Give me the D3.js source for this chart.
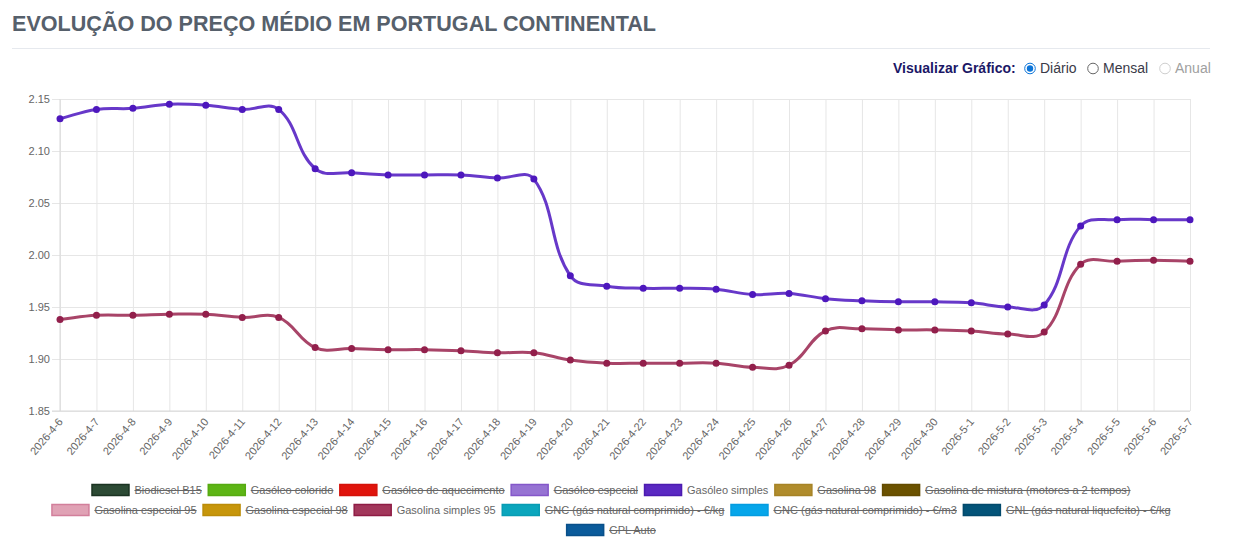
<!DOCTYPE html>
<html>
<head>
<meta charset="utf-8">
<script src="https://cdn.jsdelivr.net/npm/d3@7"></script>
<style>
  body { margin: 0; background: #fff; font-family: Arial, "Liberation Sans", sans-serif; }
  #chart svg { display: block; }
</style>
</head>
<body>
<div id="chart"></div>
<script>

// Tick labels (one per day)
const dates = [
    "2026-4-6", "2026-4-7", "2026-4-8", "2026-4-9", "2026-4-10", "2026-4-11", "2026-4-12",
    "2026-4-13", "2026-4-14", "2026-4-15", "2026-4-16", "2026-4-17", "2026-4-18", "2026-4-19",
    "2026-4-20", "2026-4-21", "2026-4-22", "2026-4-23", "2026-4-24", "2026-4-25", "2026-4-26",
    "2026-4-27", "2026-4-28", "2026-4-29", "2026-4-30", "2026-5-1", "2026-5-2", "2026-5-3",
    "2026-5-4", "2026-5-5", "2026-5-6", "2026-5-7"
];

// Series values (€/l)
const gasoleoSimples = [
    2.131, 2.140, 2.141, 2.145, 2.144, 2.140, 2.140,
    2.083, 2.079, 2.077, 2.077, 2.077, 2.074, 2.073,
    1.980, 1.970, 1.968, 1.968, 1.967, 1.962, 1.963,
    1.958, 1.956, 1.955, 1.955, 1.954, 1.950, 1.952,
    2.028, 2.034, 2.034, 2.034
];

const gasolinaSimples95 = [
    1.938, 1.942, 1.942, 1.943, 1.943, 1.940, 1.940,
    1.911, 1.910, 1.909, 1.909, 1.908, 1.906, 1.906,
    1.899, 1.896, 1.896, 1.896, 1.896, 1.892, 1.894,
    1.927, 1.929, 1.928, 1.928, 1.927, 1.924, 1.926,
    1.991, 1.994, 1.995, 1.994
];

const yTicks = [1.85, 1.90, 1.95, 2.00, 2.05, 2.10, 2.15];

// Legend entries
const legendLabels = [
    "Biodiesel B15", "Gasóleo colorido", "Gasóleo de aquecimento", "Gasóleo especial",
    "Gasóleo simples", "Gasolina 98", "Gasolina de mistura (motores a 2 tempos)",
    "Gasolina especial 95", "Gasolina especial 98", "Gasolina simples 95",
    "GNC (gás natural comprimido) - €/kg", "GNC (gás natural comprimido) - €/m3",
    "GNL (gás natural liquefeito) - €/kg", "GPL Auto"
];
const legendFill = [
    "#2c4a34", "#5db515", "#e0140c", "#9673d3", "#5a28c2", "#b08c2c", "#6b5200",
    "#e0a2b5", "#c7960b", "#a2375b", "#0ba6bd", "#06a6ea", "#045479", "#0b5b9b"
];
const legendStroke = [
    "#1b3322", "#56aa12", "#d4120a", "#8457c9", "#4c1bb0", "#a68326", "#634b00",
    "#d27f9b", "#bb8c08", "#8f1c45", "#089cb3", "#049ce0", "#034a6c", "#09508a"
];
const legendVisible = [
    false, false, false, false, true, false, false,
    false, false, true, false, false, false, false
];

const series = [
    {name: "Gasóleo simples", values: gasoleoSimples, line: "#5f2dc6", point: "#4d17bd"},
    {name: "Gasolina simples 95", values: gasolinaSimples95, line: "#a33a60", point: "#921f4b"}
];


// Chart.js style bezier (tension 0.4, distance weighted) as a d3 curve
function splineCurve(context) {
    let pts = [];
    return {
        areaStart() {}, areaEnd() {},
        lineStart() { pts = []; },
        point(x, y) { pts.push([+x, +y]); },
        lineEnd() {
            const t = 0.4, n = pts.length;
            const ctrl = pts.map((p, i) => {
                const prev = pts[Math.max(i - 1, 0)], next = pts[Math.min(i + 1, n - 1)];
                const d01 = Math.hypot(p[0] - prev[0], p[1] - prev[1]);
                const d12 = Math.hypot(next[0] - p[0], next[1] - p[1]);
                const s = d01 + d12;
                const fa = s ? t * d01 / s : 0, fb = s ? t * d12 / s : 0;
                return {
                    prev: [p[0] - fa * (next[0] - prev[0]), p[1] - fa * (next[1] - prev[1])],
                    next: [p[0] + fb * (next[0] - prev[0]), p[1] + fb * (next[1] - prev[1])]
                };
            });
            context.moveTo(pts[0][0], pts[0][1]);
            for (let i = 1; i < n; i++) {
                const a = ctrl[i - 1].next, b = ctrl[i].prev;
                context.bezierCurveTo(a[0], a[1], b[0], b[1], pts[i][0], pts[i][1]);
            }
        }
    };
}


const W = 1249, H = 554;
const margin = {top: 99, right: 59, bottom: 143, left: 60};
const width = W - margin.left - margin.right,
      height = H - margin.top - margin.bottom;

const svg = d3.select("#chart").append("svg")
    .attr("width", W)
    .attr("height", H);

// Title + rule
svg.append("text")
    .attr("x", 12)
    .attr("y", 31)
    .attr("textLength", 644)
    .attr("lengthAdjust", "spacingAndGlyphs")
    .style("font-size", "22px")
    .style("font-weight", "bold")
    .style("fill", "#56606b")
    .text("EVOLUÇÃO DO PREÇO MÉDIO EM PORTUGAL CONTINENTAL");

svg.append("line")
    .attr("x1", 12).attr("x2", 1210)
    .attr("y1", 48.5).attr("y2", 48.5)
    .style("stroke", "#e6e9ee");

// Radio selector
const radio = svg.append("g").style("font-size", "14px");
radio.append("text")
    .attr("x", 893).attr("y", 73)
    .style("font-weight", "bold")
    .style("fill", "#1b1766")
    .text("Visualizar Gráfico:");

const options = [
    {label: "Diário", cx: 1030, state: "on"},
    {label: "Mensal", cx: 1093, state: "off"},
    {label: "Anual", cx: 1165, state: "disabled"}
];
options.forEach(o => {
    radio.append("circle")
        .attr("cx", o.cx).attr("cy", 68.5).attr("r", 5.3)
        .style("fill", "#fff")
        .style("stroke", o.state == "on" ? "#0b74d8" : (o.state == "off" ? "#666" : "#cfcfcf"))
        .style("stroke-width", 1);
    if (o.state == "on") {
        radio.append("circle")
            .attr("cx", o.cx).attr("cy", 68.5).attr("r", 3.2)
            .style("fill", "#0b74d8");
    }
    radio.append("text")
        .attr("x", o.cx + 10).attr("y", 73)
        .style("fill", o.state == "disabled" ? "#a0a0a0" : "#3a3a48")
        .text(o.label);
});

// Plot area
const g = svg.append("g")
    .attr("transform", "translate(" + margin.left + "," + margin.top + ")");

const x = d3.scalePoint()
    .domain(dates)
    .range([0, width]);

const y = d3.scaleLinear()
    .domain([1.85, 2.15])
    .range([height, 0]);

// Y grid + labels
const yAxis = g.append("g")
    .call(d3.axisLeft(y).tickValues(yTicks).tickSize(-width).tickSizeOuter(0).tickPadding(10)
        .tickFormat(d3.format(".2f")));
yAxis.select(".domain").remove();
yAxis.selectAll(".tick line")
    .attr("x1", -8)
    .style("stroke", "#e6e6e6");
yAxis.selectAll(".tick text")
    .style("font-size", "11px")
    .style("fill", "#666")
    .style("font-family", "Arial, 'Liberation Sans', sans-serif");

// X grid + rotated labels
const xAxis = g.append("g")
    .attr("transform", "translate(0," + height + ")")
    .call(d3.axisBottom(x).tickSize(-height).tickSizeOuter(0).tickPadding(0));
xAxis.select(".domain").remove();
xAxis.selectAll(".tick line")
    .style("stroke", "#e6e6e6");
xAxis.selectAll(".tick text")
    .attr("text-anchor", "end")
    .attr("dy", "0")
    .attr("transform", "translate(3,11) rotate(-50)")
    .style("font-size", "11px")
    .style("fill", "#666")
    .style("font-family", "Arial, 'Liberation Sans', sans-serif");

// axis lines
g.append("line")
    .attr("x1", 0).attr("x2", 0).attr("y1", 0).attr("y2", height)
    .style("stroke", "#d9d9d9");
g.append("line")
    .attr("x1", -8).attr("x2", width).attr("y1", height).attr("y2", height)
    .style("stroke", "#d9d9d9");

// Lines
const line = d3.line()
    .x((d, i) => x(dates[i]))
    .y(d => y(d))
    .curve(splineCurve);

series.forEach(s => {
    g.append("path")
        .datum(s.values)
        .attr("d", line)
        .style("fill", "none")
        .style("stroke", s.line)
        .style("stroke-width", 3)
        .style("stroke-opacity", 0.95);

    g.selectAll(null)
        .data(s.values)
        .enter().append("circle")
        .attr("cx", (d, i) => x(dates[i]))
        .attr("cy", d => y(d))
        .attr("r", 3.5)
        .style("fill", s.point);
});

// Legend
const legend = svg.append("g")
    .style("font-size", "11px")
    .style("font-family", "Arial, 'Liberation Sans', sans-serif");

const boxW = 38, boxH = 11, gap = 5, pad = 6, maxRow = 1160, centerX = 611;
const rowY = [490, 510, 530];

// measure labels
const items = legendLabels.map((label, i) => {
    const t = legend.append("text").text(label);
    const w = t.node().getComputedTextLength();
    t.remove();
    return {label, i, w, total: boxW + gap + w};
});

let rows = [[]], rowW = [0];
items.forEach(it => {
    let r = rows.length - 1;
    const add = (rows[r].length ? pad : 0) + it.total;
    if (rowW[r] + add > maxRow) {
        rows.push([]); rowW.push(0); r++;
        rowW[r] = it.total;
    } else {
        rowW[r] += add;
    }
    rows[r].push(it);
});

rows.forEach((row, r) => {
    let cx = centerX - rowW[r] / 2;
    row.forEach(it => {
        const cy = rowY[r];
        legend.append("rect")
            .attr("x", cx + 0.5).attr("y", cy - boxH / 2)
            .attr("width", boxW - 1).attr("height", boxH)
            .style("fill", legendFill[it.i])
            .style("stroke", legendStroke[it.i])
            .style("stroke-width", 1.5);
        legend.append("text")
            .attr("x", cx + boxW + gap)
            .attr("y", cy + 4)
            .style("fill", "#666")
            .text(it.label);
        if (!legendVisible[it.i]) {
            legend.append("line")
                .attr("x1", cx + boxW + gap).attr("x2", cx + boxW + gap + it.w)
                .attr("y1", cy + 0.5).attr("y2", cy + 0.5)
                .style("stroke", "#666")
                .style("stroke-width", 1);
        }
        cx += it.total + pad;
    });
});

</script>
</body>
</html>
